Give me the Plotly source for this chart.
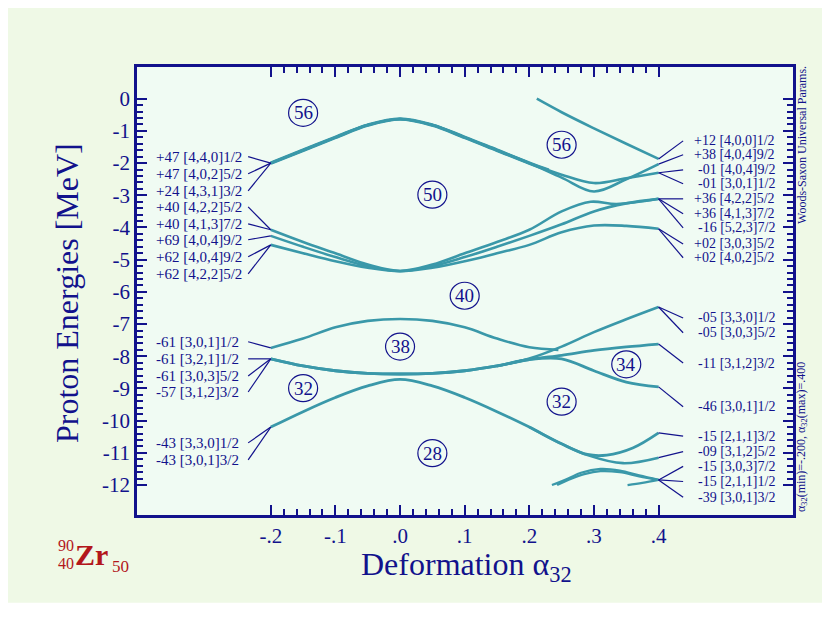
import plotly.graph_objects as go

NAVY = "#12128c"
TEAL = "#3a98a9"
RED = "#b3171c"
SERIF = "Liberation Serif, Times New Roman, serif"

# ---------------- level curves (alpha32, energy in MeV) ----------------
grid13 = [-0.2, -0.15, -0.1, -0.05, 0.0, 0.05, 0.1, 0.15, 0.2, 0.25, 0.3, 0.35, 0.4]

u_bundle_x = [-0.2, -0.15, -0.1, -0.05, 0.0, 0.05, 0.1, 0.15, 0.2, 0.23]
u_bundle_y = [-2.0, -1.6, -1.2, -0.82, -0.63, -0.82, -1.2, -1.6, -2.0, -2.22]
u1_y = [-2.0, -1.6, -1.2, -0.82, -0.63, -0.82, -1.2, -1.6, -2.0, -2.36, -2.62, -2.47, -2.30]
u2_y = [-2.0, -1.6, -1.2, -0.82, -0.63, -0.82, -1.2, -1.6, -2.0, -2.45, -2.88, -2.50, -2.03]

t_x = [0.2116, 0.25, 0.3, 0.35, 0.4]
t_y = [0.0, -0.42, -0.92, -1.40, -1.87]

l1_x = [-0.2, -0.15, -0.1, -0.05, 0.0, 0.05, 0.1, 0.15, 0.2, 0.25, 0.295, 0.335, 0.4]
l1_y = [-4.07, -4.45, -4.8, -5.15, -5.35, -5.15, -4.8, -4.45, -4.07, -3.5, -3.2, -3.27, -3.11]
l2_y = [-4.26, -4.6, -4.92, -5.2, -5.35, -5.2, -4.92, -4.6, -4.26, -3.9, -3.5, -3.25, -3.11]
l3_y = [-4.54, -4.8, -5.05, -5.25, -5.36, -5.25, -5.05, -4.8, -4.54, -4.15, -3.94, -3.95, -4.04]

c1_x = [-0.2, -0.15, -0.1, -0.05, 0.0, 0.05, 0.1, 0.15, 0.2, 0.245]
c1_y = [-7.74, -7.45, -7.1, -6.9, -6.84, -6.9, -7.1, -7.45, -7.72, -7.80]

bb_y = [-8.08, -8.3, -8.45, -8.53, -8.55, -8.53, -8.45, -8.3, -8.1, -7.97, -7.82, -7.71, -7.62]
bd_y = [-8.08, -8.3, -8.45, -8.53, -8.55, -8.53, -8.45, -8.3, -8.1, -8.08, -8.45, -8.8, -8.95]
s_x = [0.15, 0.2, 0.25, 0.3, 0.35, 0.4]
s_y = [-8.31, -8.07, -7.7, -7.25, -6.85, -6.47]

c3a_x = [-0.2, -0.15, -0.1, -0.05, 0.0, 0.05, 0.1, 0.15, 0.2, 0.25, 0.29, 0.32, 0.36, 0.4]
c3a_y = [-10.2, -9.72, -9.28, -8.92, -8.72, -8.92, -9.28, -9.72, -10.2, -10.72, -11.05, -11.07, -10.85, -10.38]
c3b_x = [0.2, 0.25, 0.29, 0.345, 0.4]
c3b_y = [-10.2, -10.72, -11.07, -11.32, -11.15]

d1_x = [0.235, 0.26, 0.28, 0.31, 0.34, 0.37, 0.4]
d1_y = [-12.0, -11.8, -11.62, -11.5, -11.55, -11.7, -11.84]
d2_x = [0.243, 0.265, 0.285, 0.31, 0.34, 0.37, 0.4]
d2_y = [-12.0, -11.8, -11.66, -11.57, -11.6, -11.73, -11.84]
e_x = [0.352, 0.375, 0.4]
e_y = [-12.0, -11.93, -11.84]

# ---------------- labels ----------------
left_labels = ["+47 [4,4,0]1/2", "+47 [4,0,2]5/2", "+24 [4,3,1]3/2", "+40 [4,2,2]5/2",
               "+40 [4,1,3]7/2", "+69 [4,0,4]9/2", "+62 [4,0,4]9/2", "+62 [4,2,2]5/2",
               "-61 [3,0,1]1/2", "-61 [3,2,1]1/2", "-61 [3,0,3]5/2", "-57 [3,1,2]3/2",
               "-43 [3,3,0]1/2", "-43 [3,0,1]3/2"]
left_label_y = [-1.80, -2.33, -2.86, -3.36, -3.89, -4.38, -4.91, -5.44,
                -7.55, -8.08, -8.61, -9.11, -10.69, -11.22]
left_node_y = [-2.0, -2.0, -2.0, -4.07, -4.07, -4.26, -4.54, -4.54,
               -7.74, -8.08, -8.08, -8.08, -10.2, -10.2]

right_labels = ["+12 [4,0,0]1/2", "+38 [4,0,4]9/2", "-01 [4,0,4]9/2", "-01 [3,0,1]1/2",
                "+36 [4,2,2]5/2", "+36 [4,1,3]7/2", "-16 [5,2,3]7/2", "+02 [3,0,3]5/2",
                "+02 [4,0,2]5/2", "-05 [3,3,0]1/2", "-05 [3,0,3]5/2", "-11 [3,1,2]3/2",
                "-46 [3,0,1]1/2", "-15 [2,1,1]3/2", "-09 [3,1,2]5/2", "-15 [3,0,3]7/2",
                "-15 [2,1,1]1/2", "-39 [3,0,1]3/2"]
right_label_y = [-1.31, -1.74, -2.21, -2.64, -3.11, -3.57, -4.01, -4.51, -4.94,
                 -6.81, -7.27, -8.21, -9.57, -10.48, -10.96, -11.42, -11.89, -12.38]
right_node_y = [-1.87, -2.03, -2.30, -2.30, -3.11, -3.11, -3.11, -4.04, -4.04,
                -6.47, -6.47, -7.62, -8.95, -10.38, -11.15, -11.84, -11.84, -11.84]

gap_labels = ["56", "56", "50", "40", "38", "34", "32", "32", "28"]
gap_x = [-0.15, 0.25, 0.05, 0.1, 0.0, 0.35, -0.15, 0.25, 0.05]
gap_y = [-0.44, -1.43, -2.98, -6.12, -7.70, -8.25, -8.99, -9.41, -11.01]

x_tickvals = [-0.2, -0.1, 0.0, 0.1, 0.2, 0.3, 0.4]
x_ticktext = ["-.2", "-.1", ".0", ".1", ".2", ".3", ".4"]
y_tickvals = [0, -1, -2, -3, -4, -5, -6, -7, -8, -9, -10, -11, -12]
y_ticktext = ["0", "-1", "-2", "-3", "-4", "-5", "-6", "-7", "-8", "-9", "-10", "-11", "-12"]

LEFT_NODE_X, LEFT_LEAD_X, LEFT_TEXT_X = -0.2, -0.235, -0.379
RIGHT_NODE_X, RIGHT_LEAD_X, RIGHT_TEXT_X = 0.4, 0.438, 0.582

fig = go.Figure()


def curve(xs, ys, w=2.6):
    fig.add_trace(go.Scatter(x=xs, y=ys, mode="lines", hoverinfo="skip",
                             line=dict(color=TEAL, width=w, shape="spline", smoothing=1.0),
                             showlegend=False))


curve(grid13, u1_y)
curve(grid13, u2_y)
curve(u_bundle_x, u_bundle_y, 3.6)
curve(t_x, t_y)
curve(l1_x, l1_y)
curve(grid13, l2_y)
curve(grid13, l3_y)
curve(c1_x, c1_y)
curve(grid13, bb_y, 2.8)
curve(grid13, bd_y, 2.8)
curve(s_x, s_y)
curve(c3a_x, c3a_y, 2.8)
curve(c3b_x, c3b_y)
curve(d1_x, d1_y, 2.2)
curve(d2_x, d2_y, 2.2)
curve(e_x, e_y, 2.2)

# leader lines
lx, ly = [], []
for yl, yn in zip(left_label_y, left_node_y):
    lx += [LEFT_LEAD_X, LEFT_NODE_X, None]
    ly += [yl, yn, None]
for yl, yn in zip(right_label_y, right_node_y):
    lx += [RIGHT_LEAD_X, RIGHT_NODE_X, None]
    ly += [yl, yn, None]
fig.add_trace(go.Scatter(x=lx, y=ly, mode="lines", hoverinfo="skip", showlegend=False,
                         line=dict(color=NAVY, width=1.2)))

annotations = []
for t, yl in zip(left_labels, left_label_y):
    annotations.append(dict(x=LEFT_TEXT_X, y=yl, xref="x", yref="y", text=t, showarrow=False,
                            xanchor="left", yanchor="middle", borderpad=0,
                            font=dict(family=SERIF, size=15, color=NAVY)))
for t, yl in zip(right_labels, right_label_y):
    annotations.append(dict(x=RIGHT_TEXT_X, y=yl, xref="x", yref="y", text=t, showarrow=False,
                            xanchor="right", yanchor="middle", borderpad=0,
                            font=dict(family=SERIF, size=14, color=NAVY)))

shapes = []
for t, gx, gy in zip(gap_labels, gap_x, gap_y):
    shapes.append(dict(type="circle", xref="x", yref="y", xsizemode="pixel", ysizemode="pixel",
                       xanchor=gx, yanchor=gy, x0=-14.5, x1=14.5, y0=-13.5, y1=13.5,
                       line=dict(color=NAVY, width=1.2)))
    annotations.append(dict(x=gx, y=gy, xref="x", yref="y", text=t, showarrow=False,
                            xanchor="center", yanchor="middle",
                            font=dict(family=SERIF, size=19, color=NAVY)))

# white strip below the green panel
shapes.append(dict(type="rect", xref="paper", yref="paper", x0=-0.3, x1=1.1, y0=-0.196, y1=-0.3,
                   fillcolor="white", line=dict(width=0), layer="below"))

# axis titles and side texts
annotations += [
    dict(x=0.503, y=-0.116, xref="paper", yref="paper", text="Deformation α<sub>32</sub>",
         showarrow=False, xanchor="center", yanchor="middle",
         font=dict(family=SERIF, size=32, color=NAVY)),
    dict(x=-0.1067, y=0.4955, xref="paper", yref="paper", text="Proton Energies [MeV]",
         showarrow=False, textangle=-90, xanchor="center", yanchor="middle",
         font=dict(family=SERIF, size=32, color=NAVY)),
    dict(x=1.0137, y=0.826, xref="paper", yref="paper", text="Woods-Saxon Universal Params.",
         showarrow=False, textangle=-90, xanchor="center", yanchor="middle",
         font=dict(family=SERIF, size=12, color=NAVY)),
    dict(x=1.0137, y=0.174, xref="paper", yref="paper",
         text="α<sub>32</sub>(min)=-.200, α<sub>32</sub>(max)=.400",
         showarrow=False, textangle=-90, xanchor="center", yanchor="middle",
         font=dict(family=SERIF, size=12, color=NAVY)),
    dict(x=-0.0686, y=-0.088, xref="paper", yref="paper", text="<b>Zr</b>",
         showarrow=False, xanchor="center", yanchor="middle",
         font=dict(family=SERIF, size=30, color=RED)),
    dict(x=-0.1088, y=-0.067, xref="paper", yref="paper", text="90", borderpad=0,
         showarrow=False, xanchor="center", yanchor="middle",
         font=dict(family=SERIF, size=16, color=RED)),
    dict(x=-0.1088, y=-0.109, xref="paper", yref="paper", text="40", borderpad=0,
         showarrow=False, xanchor="center", yanchor="middle",
         font=dict(family=SERIF, size=16, color=RED)),
    dict(x=-0.0244, y=-0.116, xref="paper", yref="paper", text="50",
         showarrow=False, xanchor="center", yanchor="middle",
         font=dict(family=SERIF, size=17, color=RED)),
]

x_minor = [round(-0.2 + 0.02 * i, 2) for i in range(31)]
x_minor = [v for v in x_minor if round(v * 10, 6) != round(v * 10)]
y_minor = [round(-0.2 * i, 1) for i in range(61)]
y_minor = [v for v in y_minor if v != round(v)]

axis_common = dict(showline=True, linecolor=NAVY, linewidth=2.5, mirror="ticks",
                   ticks="inside", tickcolor=NAVY, tickwidth=2, ticklen=10,
                   showgrid=False, zeroline=False,
                   tickfont=dict(family=SERIF, size=21, color=NAVY))

fig.update_layout(
    width=814, height=626,
    margin=dict(l=129, r=29, t=59, b=119, pad=0),
    paper_bgcolor="#eff9e6",
    plot_bgcolor="#f0fbf3",
    showlegend=False,
    xaxis=dict(range=[-0.407, 0.608], tickmode="array", tickvals=x_tickvals, ticktext=x_ticktext,
               minor=dict(tickmode="array", tickvals=x_minor, ticks="inside", ticklen=6,
                          tickwidth=1.5, tickcolor=NAVY),
               **axis_common),
    yaxis=dict(range=[-12.93, 0.985], tickmode="array", tickvals=y_tickvals, ticktext=y_ticktext,
               minor=dict(tickmode="array", tickvals=y_minor, ticks="inside", ticklen=6,
                          tickwidth=1.5, tickcolor=NAVY),
               **axis_common),
    annotations=annotations,
    shapes=shapes,
)

fig.write_html("out.html")
